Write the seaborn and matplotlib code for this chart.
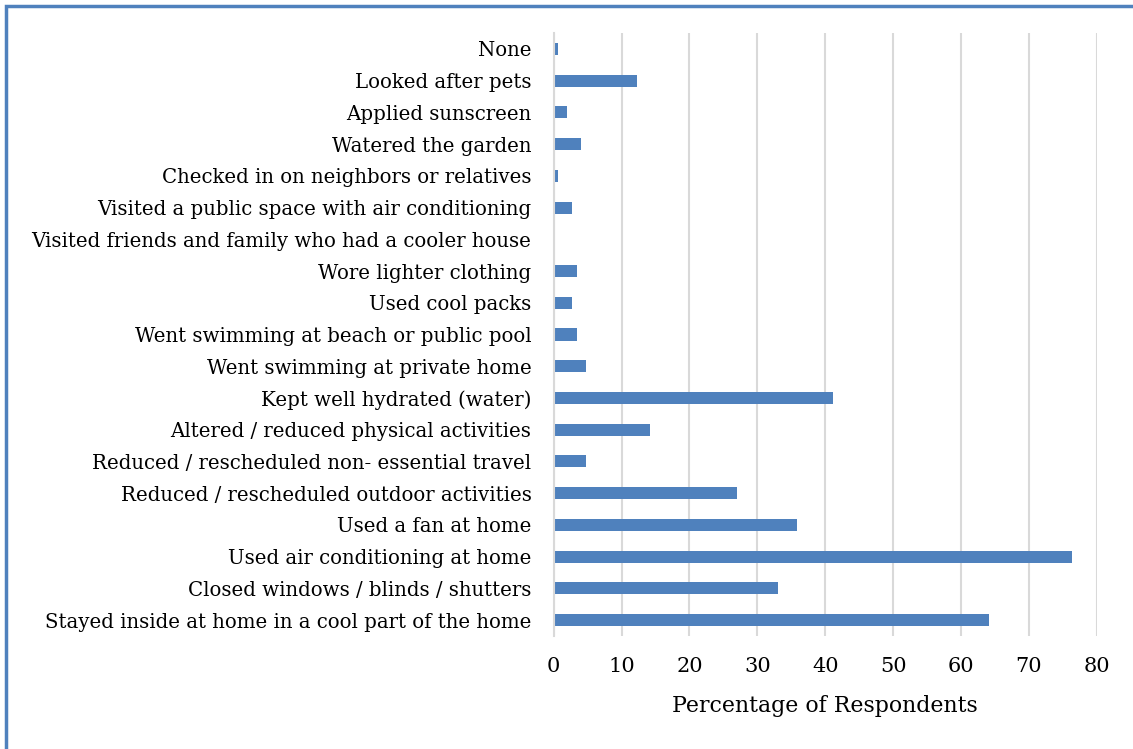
import matplotlib
matplotlib.use("Agg")
import matplotlib.pyplot as plt
import matplotlib.patches as mpatches
import pandas as pd
import seaborn as sns

# top-to-bottom order, as in the chart
actions = [
    "None",
    "Looked after pets",
    "Applied sunscreen",
    "Watered the garden",
    "Checked in on neighbors or relatives",
    "Visited a public space with air conditioning",
    "Visited friends and family who had a cooler house",
    "Wore lighter clothing",
    "Used cool packs",
    "Went swimming at beach or public pool",
    "Went swimming at private home",
    "Kept well hydrated (water)",
    "Altered / reduced physical activities",
    "Reduced / rescheduled non- essential travel",
    "Reduced / rescheduled outdoor activities",
    "Used a fan at home",
    "Used air conditioning at home",
    "Closed windows / blinds / shutters",
    "Stayed inside at home in a cool part of the home",
]
percent = [0.7, 12.2, 2.0, 4.0, 0.7, 2.7, 0.0, 3.4, 2.7, 3.4, 4.7,
           41.2, 14.2, 4.7, 27.0, 35.8, 76.4, 33.1, 64.2]
xticks = [0, 10, 20, 30, 40, 50, 60, 70, 80]

df = pd.DataFrame({"action": actions, "percent": percent})

sns.set_style("white")
plt.rcParams["font.family"] = ["DejaVu Serif"]

fig = plt.figure(figsize=(11.33, 7.49), dpi=100)
ax = fig.add_axes([553.7 / 1133, 1 - 636 / 749, (1096.7 - 553.7) / 1133, (636 - 33) / 749])

sns.barplot(data=df, x="percent", y="action", orient="h", color="#4F81BD",
            saturation=1, width=0.38, linewidth=0, ax=ax)

ax.set_xlim(0, 80)
ax.set_xticks(xticks)
ax.xaxis.grid(True, color="#D9D9D9", linewidth=1.5)
ax.set_axisbelow(True)
for s in ["top", "right", "bottom"]:
    ax.spines[s].set_visible(False)
ax.spines["left"].set_color("#D9D9D9")
ax.spines["left"].set_linewidth(1.5)
ax.tick_params(axis="both", length=0, colors="black")
ax.tick_params(axis="y", pad=16, labelsize=14.2)
ax.tick_params(axis="x", pad=15, labelsize=15)
ax.set_ylabel("")
ax.set_xlabel("Percentage of Respondents", fontsize=15.8, labelpad=14, color="black")

# blue frame edge visible at left and top
fig.add_artist(mpatches.Rectangle((6 / 1133, -0.1), 1.2, 1.1 - 6 / 749,
                                  transform=fig.transFigure, fill=False,
                                  edgecolor="#4F81BD", linewidth=2.5))

fig.savefig("out.png", dpi=100)
